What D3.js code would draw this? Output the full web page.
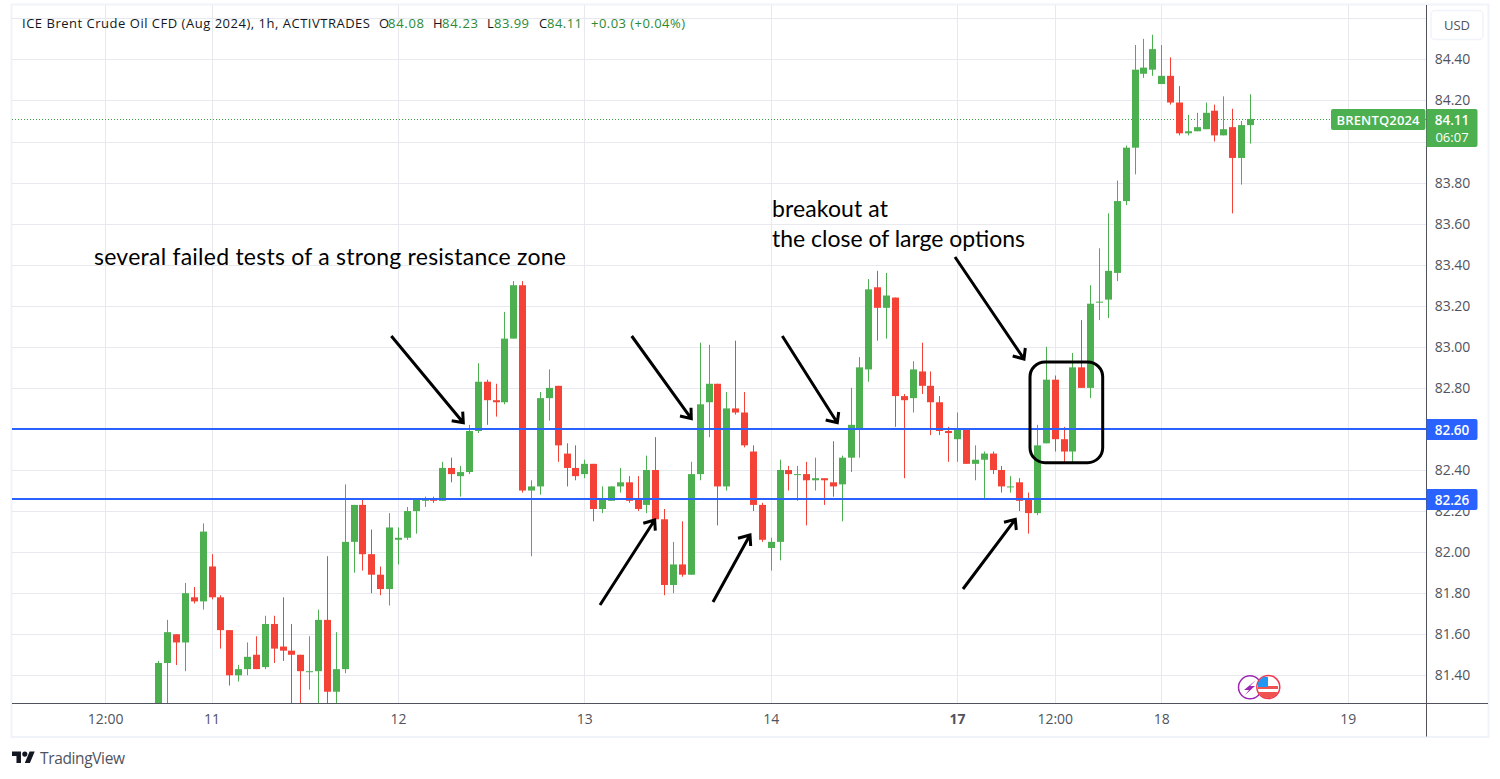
<!DOCTYPE html>
<html>
<head>
<meta charset="utf-8">
<title>ICE Brent Crude Oil CFD</title>
<script src="https://cdn.jsdelivr.net/npm/d3@7"></script>
<style>
    body { margin: 0; background: #ffffff; }
    svg { display: block; }
    .tv { font-family: "Open Sans", "Noto Sans", sans-serif; }
    .hand { font-family: "Lato", "Noto Sans", sans-serif; font-size: 23px; fill: #000000; }
</style>
</head>
<body>
<svg id="chart" width="1500" height="779"></svg>
<script>
var opens = [81.20,81.46,81.60,81.56,81.78,81.76,81.93,81.78,81.62,81.40,81.43,81.50,81.44,81.65,81.54,81.52,81.50,81.42,81.42,81.67,
    81.32,81.43,82.05,82.23,81.99,81.89,81.82,82.06,82.07,82.20,82.25,82.26,82.25,82.41,82.37,82.39,82.59,82.83,82.74,82.73,
    83.04,83.30,82.30,82.32,82.75,82.81,82.48,82.41,82.38,82.43,82.21,82.25,82.32,82.34,82.26,82.23,82.40,82.16,81.84,81.94,
    81.89,82.38,82.73,82.82,82.32,82.70,82.68,82.49,82.23,82.02,82.05,82.40,82.38,82.38,82.35,82.36,82.34,82.33,82.46,82.60,
    82.89,83.29,83.19,83.24,82.76,82.75,82.88,82.81,82.73,82.59,82.55,82.60,82.43,82.45,82.48,82.40,82.32,82.34,82.26,82.19,
    82.53,82.84,82.55,82.49,82.90,82.80,83.22,83.23,83.36,83.71,83.97,84.33,84.35,84.28,84.32,84.19,84.04,84.05,84.06,84.15,
    84.03,84.07,83.92,84.08];
var highs = [81.47,81.67,81.60,81.85,81.83,82.14,81.99,81.79,81.62,81.45,81.56,81.59,81.69,81.69,81.78,81.65,81.50,81.59,81.72,81.98,
    81.61,82.33,82.23,82.26,82.11,81.93,82.19,82.12,82.22,82.26,82.27,82.27,82.44,82.46,82.42,82.62,82.92,82.84,82.82,83.17,
    83.32,83.32,82.35,82.78,82.89,82.81,82.53,82.52,82.45,82.43,82.32,82.32,82.41,82.37,82.37,82.47,82.56,82.21,82.05,82.15,
    82.44,83.02,83.01,82.82,82.78,83.03,82.78,82.52,82.24,82.07,82.45,82.42,82.42,82.44,82.46,82.36,82.54,82.47,82.80,82.95,
    83.33,83.37,83.36,83.24,82.77,82.93,83.02,82.88,82.76,82.61,82.68,82.60,82.52,82.49,82.49,82.42,82.37,82.36,82.29,82.62,
    83.00,82.86,82.61,82.97,83.13,83.30,83.48,83.65,83.81,83.98,84.47,84.50,84.52,84.47,84.41,84.27,84.13,84.14,84.19,84.18,
    84.22,84.16,84.10,84.23];
var lows = [81.20,81.24,81.45,81.42,81.75,81.72,81.77,81.53,81.35,81.37,81.40,81.43,81.43,81.46,81.47,81.20,81.20,81.33,81.20,81.20,
    81.20,81.41,81.90,81.91,81.80,81.79,81.74,81.94,82.06,82.09,82.22,82.24,82.25,82.34,82.27,82.38,82.58,82.62,82.66,82.72,
    83.04,82.29,81.98,82.28,82.64,82.44,82.32,82.35,82.36,82.15,82.19,82.25,82.29,82.24,82.20,82.19,82.16,81.79,81.80,81.88,
    81.89,82.35,82.56,82.13,82.30,82.67,82.51,82.20,82.05,81.91,81.96,82.30,82.25,82.13,82.30,82.23,82.27,82.15,82.39,82.46,
    82.83,83.03,83.04,82.61,82.36,82.68,82.77,82.57,82.57,82.44,82.44,82.43,82.35,82.26,82.38,82.29,82.29,82.20,82.09,82.18,
    82.53,82.49,82.44,82.44,82.80,82.75,83.13,83.14,83.32,83.69,83.84,84.31,84.32,84.28,84.18,84.03,84.03,84.05,84.06,84.00,
    84.03,83.65,83.79,83.99];
var closes = [81.46,81.61,81.56,81.80,81.76,82.10,81.78,81.62,81.40,81.43,81.49,81.43,81.65,81.53,81.52,81.50,81.42,81.42,81.67,81.32,
    81.43,82.05,82.23,81.99,81.89,81.82,82.12,82.07,82.20,82.26,82.26,82.25,82.41,82.38,82.39,82.59,82.83,82.74,82.73,83.04,
    83.30,82.30,82.32,82.75,82.80,82.52,82.41,82.37,82.43,82.21,82.26,82.32,82.34,82.25,82.21,82.40,82.16,81.84,81.94,81.89,
    82.38,82.72,82.82,82.32,82.70,82.68,82.52,82.23,82.06,82.05,82.40,82.38,82.38,82.35,82.36,82.35,82.32,82.46,82.62,82.90,
    83.28,83.19,83.25,82.76,82.74,82.89,82.81,82.73,82.59,82.58,82.60,82.43,82.45,82.48,82.40,82.32,82.32,82.25,82.19,82.52,
    82.84,82.55,82.49,82.90,82.80,83.21,83.22,83.37,83.71,83.97,84.35,84.36,84.45,84.32,84.19,84.04,84.05,84.07,84.14,84.03,
    84.06,83.92,84.08,84.11];

var priceTicks = [81.4,81.6,81.8,82.0,82.2,82.4,82.6,82.8,83.0,83.2,83.4,83.6,83.8,84.0,84.2,84.4];
var gridPrices = priceTicks.concat([84.6]);
var timeTickBars = [-6,6,27,48,69,90,101,113,134];
var timeTickLabels = ["12:00","11","12","13","14","17","12:00","18","19"];
var levels = [82.60,82.26];
var lastPrice = 84.11;

var GREEN = "#4caf50", RED = "#f44336", BLUE = "#2962ff", AXIS = "#50535e", GRID = "#e7e9ee";
var paneLeft = 12, paneRight = 1426.5, paneTop = 5, paneBottom = 703.5, frameRight = 1488, frameBottom = 736.5;

var x = d3.scaleLinear().domain([0, 123]).range([158.3, 1250]);
var y = d3.scaleLinear().domain([81.4, 84.4]).range([675.3, 59.4]);

var svg = d3.select("#chart");

svg.append("defs").append("clipPath").attr("id", "pane")
    .append("rect").attr("x", paneLeft).attr("y", paneTop)
    .attr("width", paneRight - paneLeft).attr("height", paneBottom - paneTop);

svg.append("rect")
    .attr("x", paneLeft - 0.5).attr("y", paneTop - 0.5)
    .attr("width", frameRight - paneLeft + 1).attr("height", frameBottom - paneTop + 1)
    .attr("fill", "#ffffff").attr("stroke", "#f0f3fa").attr("stroke-width", 2);

// grid
svg.append("g").selectAll("line").data(gridPrices).join("line")
    .attr("x1", paneLeft).attr("x2", paneRight)
    .attr("y1", function (d) { return Math.round(y(d)) + 0.5; })
    .attr("y2", function (d) { return Math.round(y(d)) + 0.5; })
    .attr("stroke", GRID);
svg.append("g").selectAll("line").data(timeTickBars).join("line")
    .attr("y1", paneTop).attr("y2", paneBottom)
    .attr("x1", function (d) { return Math.round(x(d)) + 0.5; })
    .attr("x2", function (d) { return Math.round(x(d)) + 0.5; })
    .attr("stroke", GRID);

// last price dotted line
svg.append("line")
    .attr("x1", paneLeft).attr("x2", paneRight)
    .attr("y1", Math.round(y(lastPrice)) + 0.5).attr("y2", Math.round(y(lastPrice)) + 0.5)
    .attr("stroke", "#3f9f44").attr("stroke-dasharray", "1 2");

// candles
var candles = svg.append("g").attr("clip-path", "url(#pane)");
candles.selectAll("line").data(opens).join("line")
    .attr("x1", function (d, i) { return Math.round(x(i)) + 0.5; })
    .attr("x2", function (d, i) { return Math.round(x(i)) + 0.5; })
    .attr("y1", function (d, i) { return y(highs[i]); })
    .attr("y2", function (d, i) { return y(lows[i]); })
    .attr("stroke", function (d, i) { return closes[i] >= d ? GREEN : RED; });
candles.selectAll("rect").data(opens).join("rect")
    .attr("x", function (d, i) { return Math.round(x(i)) - 3; })
    .attr("width", 7)
    .attr("y", function (d, i) { return y(Math.max(d, closes[i])); })
    .attr("height", function (d, i) { return Math.max(1, Math.abs(y(d) - y(closes[i]))); })
    .attr("fill", function (d, i) { return closes[i] >= d ? GREEN : RED; });

// support and resistance levels
svg.append("g").selectAll("line").data(levels).join("line")
    .attr("x1", paneLeft).attr("x2", paneRight)
    .attr("y1", function (d) { return Math.round(y(d)); })
    .attr("y2", function (d) { return Math.round(y(d)); })
    .attr("stroke", BLUE).attr("stroke-width", 2);

// axes
var yAxis = svg.append("g").attr("class", "tv")
    .attr("transform", "translate(" + paneRight + ",0)")
    .call(d3.axisRight(y).tickValues(priceTicks).tickSize(0).tickFormat(d3.format(".2f")));
yAxis.select(".domain").remove();
yAxis.selectAll("text").attr("x", 26).attr("text-anchor", "middle")
    .attr("font-size", 14).attr("fill", AXIS);

var xAxis = svg.append("g").attr("class", "tv")
    .attr("transform", "translate(0," + paneBottom + ")")
    .call(d3.axisBottom(x).tickValues(timeTickBars).tickSize(0)
        .tickFormat(function (d, i) { return timeTickLabels[i]; }));
xAxis.select(".domain").remove();
xAxis.selectAll("text").attr("y", 11).attr("font-size", 14).attr("fill", AXIS)
    .attr("font-weight", function (d, i) { return timeTickLabels[i] == "17" ? "700" : "400"; });

svg.append("line").attr("x1", paneLeft).attr("x2", frameRight)
    .attr("y1", paneBottom).attr("y2", paneBottom).attr("stroke", AXIS);
svg.append("line").attr("x1", paneRight).attr("x2", paneRight)
    .attr("y1", paneTop).attr("y2", frameBottom).attr("stroke", AXIS);

// USD button
svg.append("rect").attr("x", 1431).attr("y", 10.5).attr("width", 52).attr("height", 29).attr("rx", 4)
    .attr("fill", "#ffffff").attr("stroke", "#f0f3fa").attr("stroke-width", 1.5);
svg.append("text").attr("class", "tv").attr("x", 1457).attr("y", 29.5).attr("text-anchor", "middle")
    .attr("font-size", 13).attr("fill", AXIS).text("USD");

// price labels
function priceLabel(value, color, h) {
    var top = Math.round(y(value)) - 10;
    svg.append("path")
        .attr("d", "M" + paneRight + "," + top + "h49q2,0 2,2v" + (h - 4) + "q0,2 -2,2h-49z")
        .attr("fill", color);
    svg.append("text").attr("class", "tv")
        .attr("x", 1452).attr("y", top + 15.5).attr("text-anchor", "middle")
        .attr("font-size", 13.5).attr("font-weight", 600).attr("fill", "#ffffff")
        .text(value.toFixed(2));
}
levels.forEach(function (d) { priceLabel(d, BLUE, 21); });
priceLabel(lastPrice, GREEN, 38);
svg.append("text").attr("class", "tv")
    .attr("x", 1452).attr("y", 142).attr("text-anchor", "middle")
    .attr("font-size", 13).attr("fill", "#ffffff").text("06:07");
svg.append("rect").attr("x", 1331).attr("y", 109).attr("width", 94.5).attr("height", 21).attr("rx", 2)
    .attr("fill", GREEN);
svg.append("text").attr("class", "tv")
    .attr("x", 1378).attr("y", 124.5).attr("text-anchor", "middle")
    .attr("font-size", 13).attr("font-weight", 600).attr("fill", "#ffffff")
    .attr("textLength", 83).text("BRENTQ2024");

// header
var headerParts = [
    ["ICE Brent Crude Oil CFD (Aug 2024), 1h, ACTIVTRADES", 22, 348, "#131722"],
    ["O", 379, 9, "#131722"], ["84.08", 388, 36, "#2a8a35"],
    ["H", 433, 9, "#131722"], ["84.23", 442, 36, "#2a8a35"],
    ["L", 487, 7, "#131722"], ["83.99", 494, 35, "#2a8a35"],
    ["C", 539, 8, "#131722"], ["84.11", 547, 35, "#2a8a35"],
    ["+0.03 (+0.04%)", 591, 94, "#2a8a35"]
];
svg.append("g").attr("class", "tv").selectAll("text").data(headerParts).join("text")
    .attr("x", function (d) { return d[1]; })
    .attr("y", 28)
    .attr("font-size", 13)
    .attr("textLength", function (d) { return d[2]; })
    .attr("fill", function (d) { return d[3]; })
    .text(function (d) { return d[0]; });

// hand drawn notes
var notes = [
    ["several failed tests of a strong resistance zone", 94, 265, 472],
    ["breakout at", 772, 217, 116],
    ["the close of large options", 772, 247, 253]
];
svg.append("g").selectAll("text").data(notes).join("text")
    .attr("class", "hand")
    .attr("x", function (d) { return d[1]; })
    .attr("y", function (d) { return d[2]; })
    .attr("textLength", function (d) { return d[3]; })
    .text(function (d) { return d[0]; });

var arrows = [
    [391.3, 336, 463.3, 422.7, 451.7, 420.7, 462.7, 411.7],
    [631.7, 336, 691.3, 418.7, 680, 416, 691, 407.7],
    [782.3, 336, 837.3, 422.7, 825.7, 420, 838.7, 412],
    [600, 605, 654.7, 520, 643.3, 523.3, 655.3, 530.7],
    [713, 602, 750, 535, 738, 538.3, 750.7, 546],
    [963, 589, 1015.3, 519.3, 1004, 522.3, 1016.3, 530],
    [955, 257, 1024, 359, 1012.7, 356, 1025.3, 348]
];
svg.append("g").attr("fill", "none").attr("stroke", "#000000").attr("stroke-width", 3)
    .selectAll("path").data(arrows).join("path")
    .attr("d", function (a) {
        return "M" + a[0] + "," + a[1] + "L" + a[2] + "," + a[3] +
            "M" + a[4] + "," + a[5] + "L" + a[2] + "," + a[3] + "L" + a[6] + "," + a[7];
    });
svg.append("rect").attr("x", 1030).attr("y", 362).attr("width", 72.7).attr("height", 100.7).attr("rx", 15)
    .attr("fill", "none").attr("stroke", "#000000").attr("stroke-width", 3);

// event icons
var icons = svg.append("g");
icons.append("circle").attr("cx", 1250).attr("cy", 687.3).attr("r", 11.5)
    .attr("fill", "#ffffff").attr("stroke", "#9c27b0").attr("stroke-width", 1.5);
icons.append("path").attr("d", "M1256,680L1244,690H1249L1245,695L1255,686H1250Z").attr("fill", "#9c27b0");
icons.append("clipPath").attr("id", "flag").append("circle")
    .attr("cx", 1268.3).attr("cy", 687).attr("r", 11);
var flag = icons.append("g");
flag.append("circle").attr("cx", 1268.3).attr("cy", 687).attr("r", 11.5)
    .attr("fill", "#ffffff").attr("stroke", "#f0394f").attr("stroke-width", 1.5);
var flagBody = flag.append("g").attr("clip-path", "url(#flag)");
flagBody.append("rect").attr("x", 1258).attr("y", 686).attr("width", 20).attr("height", 3).attr("fill", "#ef5350");
flagBody.append("rect").attr("x", 1258).attr("y", 692).attr("width", 20).attr("height", 6).attr("fill", "#ef5350");
flagBody.append("rect").attr("x", 1258).attr("y", 677).attr("width", 10).attr("height", 10).attr("fill", "#2196f3");

// footer logo
var logo = svg.append("g").attr("transform", "translate(12,749) scale(0.64)").attr("fill", "#131722");
logo.append("path").attr("d", "M14 22H7V11H0V4h14v18zM28 22h-8l7.5-18h8L28 22z");
logo.append("circle").attr("cx", 20).attr("cy", 8).attr("r", 4);
svg.append("text").attr("class", "tv").attr("x", 40).attr("y", 764)
    .attr("font-size", 15.5).attr("fill", "#50535e").attr("textLength", 85).text("TradingView");
</script>
</body>
</html>
